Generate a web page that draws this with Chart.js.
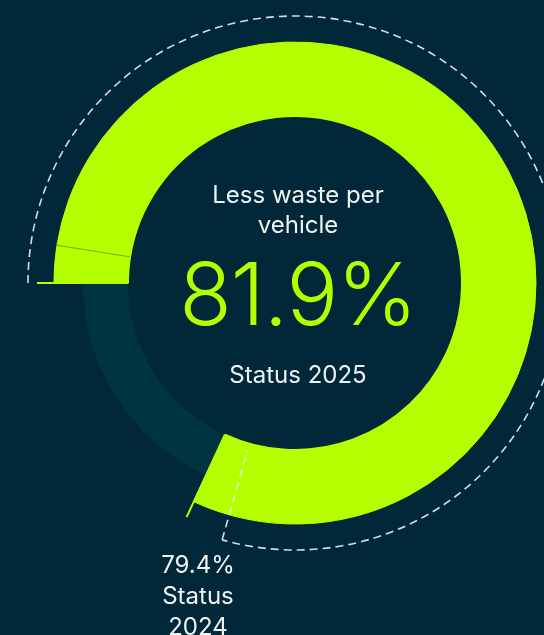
<!DOCTYPE html>
<html>
<head>
<meta charset="utf-8">
<script src="https://cdn.jsdelivr.net/npm/chart.js@4.4.0/dist/chart.umd.min.js"></script>
<style>
    html, body { margin: 0; padding: 0; overflow: hidden; background: #012838; }
    body { width: 544px; height: 635px; position: relative; font-family: Inter, "Noto Sans", sans-serif; }
    #chart { position: absolute; left: 0; top: 0; }
    .label { position: absolute; color: #eef3f4; text-align: center; font-size: 24px; line-height: 30px; }
    #centerTitle { left: 198px; width: 200px; top: 180px; }
    #centerValue { left: 148px; width: 300px; top: 249px; color: #b4ff00; font-size: 86px; line-height: 90px; font-weight: 300; letter-spacing: -1px; }
    #centerSub { left: 198px; width: 200px; top: 360px; }
    #prevLabel { left: 128px; width: 140px; top: 549px; line-height: 31px; }
</style>
</head>
<body>
<canvas id="chart" width="600" height="635"></canvas>
<div class="label" id="centerTitle">Less waste per<br>vehicle</div>
<div class="label" id="centerValue">81.9%</div>
<div class="label" id="centerSub">Status 2025</div>
<div class="label" id="prevLabel">79.4%<br>Status<br>2024</div>

<script>
// Values
const status2025 = 81.9;
const status2024 = 79.4;
const increase = +(status2025 - status2024).toFixed(1);   // 2.5
const remaining2025 = +(100 - status2025).toFixed(1);
const remaining2024 = +(100 - status2024).toFixed(1);

const lime = '#b4ff00';
const track = '#00343f';
const guide = 'rgba(235, 242, 244, 0.9)';

// Extra lines: dashed 2024 guide, start/end ticks, seam between segments
const markerPlugin = {
    id: 'markers',
    afterDatasetsDraw(chart) {
        const ctx = chart.ctx;
        const guideArc = chart.getDatasetMeta(0).data[0];
        const outerMeta = chart.getDatasetMeta(1);
        const innerMeta = chart.getDatasetMeta(2);
        const cx = guideArc.x, cy = guideArc.y;
        const rGuide = guideArc.outerRadius;
        const rOuter = outerMeta.data[0].outerRadius;
        const rInner = innerMeta.data[0].innerRadius;

        const radial = (angle, r1, r2) => {
            ctx.moveTo(cx + Math.cos(angle) * r1, cy + Math.sin(angle) * r1);
            ctx.lineTo(cx + Math.cos(angle) * r2, cy + Math.sin(angle) * r2);
        };

        ctx.save();

        // seam between increase and 2024 part
        ctx.strokeStyle = 'rgba(70, 110, 0, 0.55)';
        ctx.lineWidth = 1;
        ctx.beginPath();
        radial(outerMeta.data[0].endAngle, rInner, rOuter);
        ctx.stroke();

        // ticks at start and end of the 2025 arc
        ctx.strokeStyle = lime;
        ctx.lineWidth = 2;
        ctx.beginPath();
        radial(outerMeta.data[0].startAngle, rInner, rOuter + 17);
        radial(outerMeta.data[1].endAngle, rInner, rOuter + 17);
        ctx.stroke();

        // dashed 2024 guide
        ctx.strokeStyle = guide;
        ctx.lineWidth = 1.6;
        ctx.setLineDash([8, 5]);
        ctx.beginPath();
        ctx.arc(cx, cy, rGuide - 1, guideArc.startAngle, guideArc.endAngle);
        radial(guideArc.endAngle, rGuide - 1, rInner + 7);
        ctx.stroke();

        ctx.restore();
    }
};

new Chart(document.getElementById('chart'), {
    type: 'doughnut',
    data: {
        labels: ['Increase', 'Status 2024', 'Remaining'],
        datasets: [
            {
                // spacer ring carrying the 2024 guide
                data: [status2024, remaining2024],
                backgroundColor: ['rgba(0,0,0,0)', 'rgba(0,0,0,0)'],
                borderWidth: 0,
                weight: 27
            },
            {
                data: [increase, status2024, remaining2025],
                backgroundColor: [lime, lime, 'rgba(0,0,0,0)'],
                borderColor: [lime, lime, 'rgba(0,0,0,0)'],
                borderWidth: [1, 1, 0],
                weight: 29
            },
            {
                data: [increase, status2024, remaining2025],
                backgroundColor: [lime, lime, track],
                borderColor: [lime, lime, track],
                borderWidth: [2, 2, 0],
                weight: 45
            }
        ]
    },
    options: {
        responsive: false,
        animation: false,
        events: [],
        rotation: -90,
        cutout: 167,
        layout: { padding: { left: 27, top: 15, right: 37, bottom: 84 } },
        plugins: {
            legend: { display: false },
            tooltip: { enabled: false }
        }
    },
    plugins: [markerPlugin]
});
</script>
</body>
</html>
